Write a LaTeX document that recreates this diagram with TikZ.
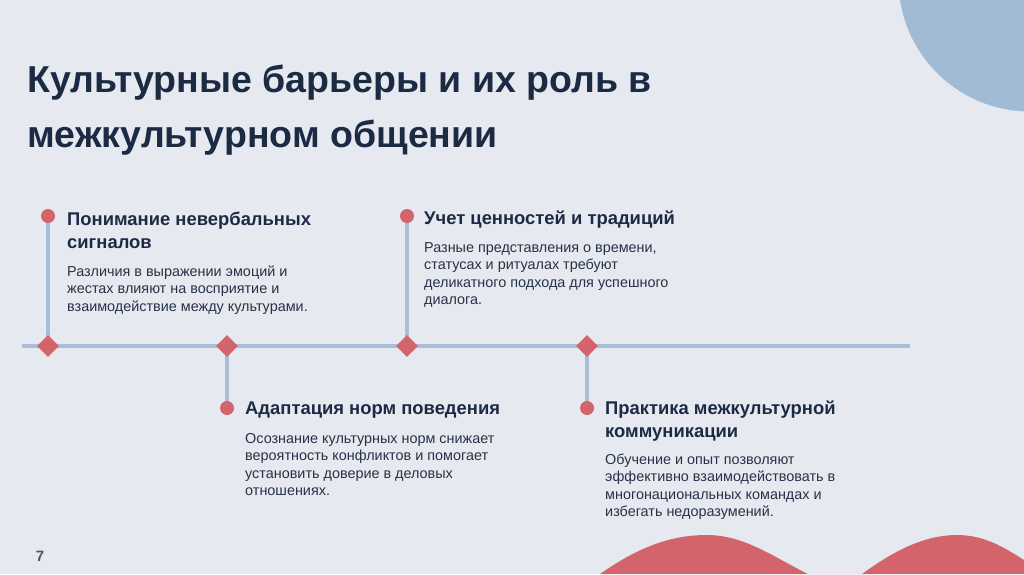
\documentclass[tikz,border=0pt]{standalone}
\usepackage{fontspec}
\setmainfont{Liberation Sans}
\usetikzlibrary{shapes.geometric}
\definecolor{slidebg}{HTML}{E7E9F0}
\definecolor{slideblue}{HTML}{A2BBD5}
\definecolor{slidered}{HTML}{D4646C}
\definecolor{slideline}{HTML}{A9BED6}
\definecolor{slidenavy}{HTML}{1C2B44}
\definecolor{slidetext}{HTML}{263247}
\pgfdeclarelayer{deco}
\pgfdeclarelayer{wires}
\pgfsetlayers{deco,wires,main}
\tikzset{
  tlline/.style={slideline,line width=4pt},
  tlmark/.style={diamond,fill=slidered,minimum size=22pt,inner sep=0pt},
  tldot/.style={circle,fill=slidered,minimum size=14pt,inner sep=0pt},
  headtext/.style={anchor=base west,align=left,inner sep=0pt,text=slidenavy,
    font=\fontsize{18.4}{23}\selectfont\bfseries},
  bodytext/.style={anchor=base west,align=left,inner sep=0pt,text=slidetext,
    font=\fontsize{14.4}{17.6}\selectfont},
}

\begin{document}
\begin{tikzpicture}[x=1pt,y=-1pt]
  \useasboundingbox (0,0) rectangle (1024,574);
  \begin{pgfonlayer}{deco}
    \fill[slidebg] (0,0) rectangle (1024,574);
    \fill[slideblue] (1030,-20) circle[radius=131.5];
    \fill[slidered] (600,574) .. controls (640,546) and (672,535) .. (707,535)
      .. controls (745,535) and (775,558) .. (808,574) -- (862,574)
      .. controls (895,550) and (925,535) .. (957,535)
      .. controls (985,535) and (1005,548) .. (1024,560) -- (1024,574) -- cycle;
  \end{pgfonlayer}

  % title (base = last line)
  \node[anchor=base west,align=left,inner sep=0pt,text=slidenavy,
    font=\fontsize{37.5}{55}\selectfont\bfseries] (title) at (27,147)
    {Культурные барьеры и их роль в\\межкультурном общении};

  % timeline
  \coordinate (tl-start) at (22,346);
  \coordinate (tl-end) at (910,346);
  \node[tlmark] (m1) at (48,346) {};
  \node[tlmark] (m2) at (227,346) {};
  \node[tlmark] (m3) at (407,346) {};
  \node[tlmark] (m4) at (587,346) {};
  \node[tldot] (d1) at (48,216) {};
  \node[tldot] (d2) at (227,408) {};
  \node[tldot] (d3) at (407,216) {};
  \node[tldot] (d4) at (587,408) {};
  \begin{pgfonlayer}{wires}
    \draw[tlline] (tl-start) -- (tl-end);
    \foreach \i in {1,...,4}
      \draw[tlline,line width=3.5pt] (d\i.center) -- (m\i.center);
  \end{pgfonlayer}

  % texts
  \node[headtext] (h1) at (67,248) {Понимание невербальных\\сигналов};
  \node[bodytext] (b1) at (67,311.2) {Различия в выражении эмоций и\\жестах влияют на восприятие и\\взаимодействие между культурами.};
  \node[headtext] (h2) at (245,414) {Адаптация норм поведения};
  \node[bodytext] (b2) at (245,495.8) {Осознание культурных норм снижает\\вероятность конфликтов и помогает\\установить доверие в деловых\\отношениях.};
  \node[headtext] (h3) at (424,224) {Учет ценностей и традиций};
  \node[bodytext] (b3) at (424,304.8) {Разные представления о времени,\\статусах и ритуалах требуют\\деликатного подхода для успешного\\диалога.};
  \node[headtext] (h4) at (605,437) {Практика межкультурной\\коммуникации};
  \node[bodytext] (b4) at (605,516.8) {Обучение и опыт позволяют\\эффективно взаимодействовать в\\многонациональных командах и\\избегать недоразумений.};

  \node[anchor=base,inner sep=0pt,text=slidenavy!80,font=\fontsize{15}{18}\selectfont\bfseries] (pagenum) at (40,561) {7};
\end{tikzpicture}
\end{document}
